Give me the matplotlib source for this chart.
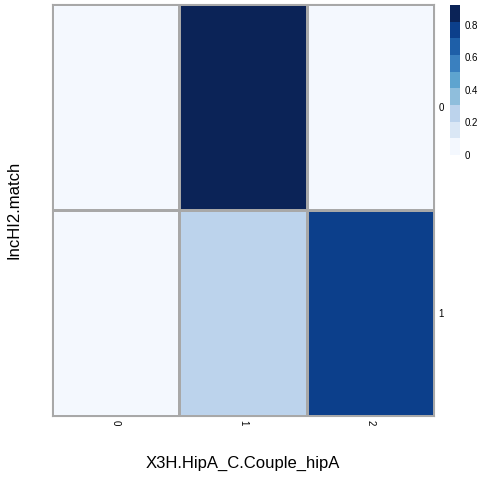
import numpy as np
import matplotlib
matplotlib.use("Agg")
import matplotlib.pyplot as plt
from matplotlib.colors import ListedColormap, BoundaryNorm

plt.rcParams['font.family'] = ['Liberation Sans', 'DejaVu Sans']

# data
row_labels = ['0', '1']
col_labels = ['0', '1', '2']
values = np.array([[0.0, 0.92, 0.0],
                   [0.0, 0.27, 0.78]])
palette = ['#f4f8fe', '#dae7f5', '#bcd3ec', '#8fbedc', '#5ea4cf',
           '#3a80bf', '#1e5fa8', '#0c3f8b', '#0b2357']
cbar_ticks = [0, 0.2, 0.4, 0.6, 0.8]

vmin, vmax = values.min(), values.max()
bounds = np.linspace(vmin, vmax, len(palette) + 1)
cmap = ListedColormap(palette)
norm = BoundaryNorm(bounds, cmap.N)

fig = plt.figure(figsize=(4.8, 4.8), dpi=100)
ax = fig.add_axes([52/480, 64/480, 382/480, 412/480])
ax.pcolormesh(values, cmap=cmap, norm=norm, edgecolors='#a8a8a8', linewidth=0.8)
ax.set_xlim(0, len(col_labels))
ax.set_ylim(len(row_labels), 0)
for s in ax.spines.values():
    s.set_color('#a8a8a8')
    s.set_linewidth(0.8)

ax.set_xticks(np.arange(len(col_labels)) + 0.5)
ax.set_xticklabels(col_labels, rotation=270, fontsize=7)
ax.set_yticks(np.arange(len(row_labels)) + 0.5)
ax.set_yticklabels(row_labels, fontsize=7)
ax.yaxis.tick_right()
ax.tick_params(length=0, pad=3)
ax.set_xlabel('X3H.HipA_C.Couple_hipA', fontsize=12, labelpad=22)
ax.set_ylabel('IncHI2.match', fontsize=12, labelpad=22)

# legend
cax = fig.add_axes([450/480, 325/480, 10/480, 150/480])
for i, c in enumerate(palette):
    cax.bar(0, bounds[i+1] - bounds[i], bottom=bounds[i], width=1, color=c, linewidth=0)
cax.set_xlim(-0.5, 0.5)
cax.set_ylim(vmin, vmax)
cax.set_xticks([])
cax.set_yticks(cbar_ticks)
cax.set_yticklabels(['0', '0.2', '0.4', '0.6', '0.8'], fontsize=7)
cax.yaxis.tick_right()
cax.tick_params(length=0, pad=3)
for s in cax.spines.values():
    s.set_visible(False)

fig.savefig('out.png', dpi=100)
